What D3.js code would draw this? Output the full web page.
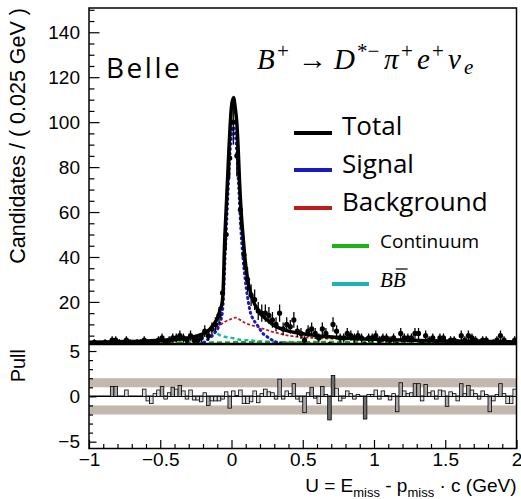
<!DOCTYPE html>
<html>
<head>
<meta charset="utf-8">
<script src="https://cdn.jsdelivr.net/npm/d3@7"></script>
<style>
  body { margin: 0; background: #fff; }
  text { font-family: "Liberation Sans", Arial, sans-serif; fill: #000; }
</style>
</head>
<body>
<div id="viz_container"></div>
<script>
// ---- data ----
const binLow = -1;
const binWidth = 0.025;

// candidates per 0.025 GeV bin, 120 bins from -1 to 2
const counts = [
  1, 2, 1, 1, 2, 1, 3, 3, 2, 1, 3, 2, 1, 2, 2, 3, 1, 1, 2, 3,
  4, 2, 3, 4, 4, 5, 4, 3, 5, 3, 3, 4, 7, 5, 8, 10, 14, 24, 50, 84,
  100, 85, 61, 41, 30, 23, 21, 16, 15, 15, 14, 12, 10, 15, 8, 10, 9, 12, 7, 6,
  3, 7, 8, 6, 4, 8, 6, 1, 10, 7, 4, 4, 6, 5, 4, 5, 4, 1, 4, 4,
  5, 3, 4, 4, 3, 4, 1, 6, 4, 4, 4, 6, 6, 2, 5, 3, 4, 2, 4, 4,
  1, 3, 3, 2, 5, 3, 5, 4, 3, 2, 3, 3, 1, 2, 3, 5, 3, 1, 1, 3
];

// pull per bin
const pulls = [
  0, 0, 0, 0, 0, 0, 1.1, 1.1, 0, 0, 0.7, 0, 0, 0, 0, 0.8, -0.5, -0.8, 0.3, 0.7,
  1.1, -0.3, 0.4, 1.0, 0.8, 1.2, 0.6, -0.3, 0.7, -0.4, -0.4, -0.6, 0.4, -1.0, -0.5, -0.5, -0.5, -0.3, 0.5, -1.3,
  0.6, 0.1, 0.7, -0.8, -0.8, -0.6, 0.6, -0.7, 0.3, 0.8, 0.5, 0.4, -0.3, 1.9, -0.3, 0.6, 0.3, 1.4, -0.3, -0.6,
  -1.8, 0.4, 1.0, -0.2, -0.8, 1.1, 0.2, -2.6, 2.3, 0.9, -0.5, -0.2, 0.6, 0.3, -0.3, 0.2, 0, -2.5, 0.2, 0.2,
  0.7, -0.3, 0.6, 0.1, -0.4, 0.3, -1.7, 1.5, 0.6, 0.3, 0.4, 1.4, 1.4, -0.5, 1.3, 0.4, 0.6, -0.3, 0.7, 0.6,
  -1.1, 0.5, 0.3, -0.5, 1.4, 0.3, 1.2, 0.7, 0.3, -0.3, 0.6, 0.2, -1.7, -0.5, 0.2, 1.4, 0.3, -0.8, -0.8, 0.8
];

// fit components sampled along U
const totalX = [-1, -0.8, -0.6, -0.5, -0.4, -0.3, -0.25, -0.2, -0.15, -0.12, -0.1, -0.08, -0.065, -0.058, -0.049, -0.04, -0.028, -0.018, -0.009, 0, 0.014, 0.025, 0.038, 0.047, 0.056, 0.068, 0.08, 0.095, 0.113, 0.13, 0.155, 0.18, 0.2, 0.25, 0.3, 0.4, 0.5, 0.6, 0.8, 1.0, 1.25, 1.5, 2.0];
const totalY = [2.1, 2.3, 2.6, 2.9, 3.3, 4.0, 4.8, 5.8, 8.0, 10.5, 12.5, 16.5, 20, 26, 45, 58, 74, 88, 99, 107, 111, 107, 99, 88, 74, 60, 50, 39, 30, 25, 20, 17, 15, 12, 9.5, 7.0, 5.8, 4.9, 4.0, 3.4, 2.9, 2.6, 2.2];

const signalX = [-1, -0.4, -0.3, -0.2, -0.164, -0.12, -0.082, -0.065, -0.058, -0.049, -0.04, -0.028, -0.018, -0.009, 0, 0.012, 0.025, 0.038, 0.05, 0.066, 0.08, 0.096, 0.113, 0.13, 0.155, 0.178, 0.22, 0.25, 0.3, 0.4, 0.5, 0.7, 2];
const signalY = [0, 0.2, 0.6, 1.8, 3.5, 6, 10.5, 15, 20, 34, 47, 64, 78, 88, 95, 98, 95, 86, 72, 52, 40, 30, 22, 16, 12, 10, 6, 4.5, 2.5, 1, 0.5, 0.2, 0];

const bkgX = [-1, -0.5, -0.3, -0.2, -0.15, -0.1, -0.05, 0, 0.03, 0.06, 0.1, 0.15, 0.2, 0.3, 0.4, 0.5, 0.6, 0.8, 1, 1.5, 2];
const bkgY = [2.0, 2.4, 3.5, 5.2, 6.8, 8.8, 11, 12.5, 13, 12, 10.5, 9.5, 8.5, 6.5, 5.0, 4.3, 3.9, 3.4, 3.0, 2.5, 2.1];

const contX = [-1, -0.5, 0, 0.5, 1, 1.5, 2];
const contY = [1.7, 1.9, 2.0, 2.1, 2.2, 2.2, 2.1];

const bbX = [-1, -0.5, -0.35, -0.25, -0.2, -0.16, -0.14, -0.12, -0.09, -0.05, 0, 0.05, 0.1, 0.2, 0.3, 0.5, 1, 2];
const bbY = [0.3, 0.8, 1.5, 3, 5, 7, 7.5, 7, 5.5, 4.5, 4, 3.3, 3, 2.5, 2.2, 1.6, 1, 0.6];

// ticks
const xTicks = [-1, -0.5, 0, 0.5, 1, 1.5, 2];
const yTicks = [20, 40, 60, 80, 100, 120, 140];
const pullTicks = [-5, 0, 5];
const legendLabels = ["Total", "Signal", "Background", "Continuum"];

// ---- layout ----
const width = 521, height = 499;
const left = 89, right = 516.5;
const upTop = 8, upBot = 343.5, loTop = 344.5, loBot = 448.5;

const svg = d3.select("#viz_container")
  .append("svg")
    .attr("width", width)
    .attr("height", height);

const xScale = d3.scaleLinear().domain([-1, 2]).range([left, right]);
const yScale = d3.scaleLinear().domain([1.5, 150.8]).range([upBot, upTop]);
const pScale = d3.scaleLinear().domain([-5.75, 5.72]).range([loBot, loTop]);

svg.append("clipPath").attr("id", "clipUp")
  .append("rect")
    .attr("x", left).attr("y", upTop)
    .attr("width", right - left).attr("height", upBot - upTop);

// ---- pull panel ----
const pull = svg.append("g");

pull.selectAll(".band")
  .data([[1, 2], [-2, -1]])
  .join("rect")
    .attr("x", left)
    .attr("width", right - left)
    .attr("y", d => pScale(d[1]))
    .attr("height", d => pScale(d[0]) - pScale(d[1]))
    .style("fill", "#c3b8ae");

pull.append("line")
  .attr("x1", left).attr("x2", right)
  .attr("y1", pScale(0)).attr("y2", pScale(0))
  .style("stroke", "#000").style("stroke-width", 1.5);

pull.selectAll(".pullbar")
  .data(pulls)
  .join("rect")
    .attr("x", (d, i) => xScale(binLow + i * binWidth))
    .attr("width", xScale(binWidth) - xScale(0))
    .attr("y", d => pScale(Math.max(d, 0)))
    .attr("height", d => Math.abs(pScale(d) - pScale(0)))
    .style("fill", d => Math.abs(d) >= 2 ? "#6f6f6f" : Math.abs(d) >= 1 ? "#a9a9a9" : "#dedede")
    .style("stroke", "#000")
    .style("stroke-width", 0.8)
    .style("display", d => d === 0 ? "none" : null);

// ---- upper panel ----
const up = svg.append("g").attr("clip-path", "url(#clipUp)");

const curvePath = (xs, ys) => d3.line()
  .x((d, i) => xScale(xs[i]))
  .y(d => yScale(d))
  .curve(d3.curveMonotoneX)(ys);

up.append("path").attr("d", curvePath(bbX, bbY))
  .style("fill", "none").style("stroke", "#1ab4b4").style("stroke-width", 2.5).style("stroke-dasharray", "4,3");
up.append("path").attr("d", curvePath(contX, contY))
  .style("fill", "none").style("stroke", "#1ab41a").style("stroke-width", 2.5).style("stroke-dasharray", "5,3");
up.append("path").attr("d", curvePath(bkgX, bkgY))
  .style("fill", "none").style("stroke", "#c01a1a").style("stroke-width", 1.8).style("stroke-dasharray", "3,2");
up.append("path").attr("d", curvePath(signalX, signalY))
  .style("fill", "none").style("stroke", "#1a1ac0").style("stroke-width", 3).style("stroke-dasharray", "1,4")
  .style("stroke-linecap", "round");

// data points
const points = counts.map((c, i) => ({ u: binLow + (i + 0.5) * binWidth, n: c }))
  .filter(d => d.n > 0);

up.selectAll(".errv")
  .data(points)
  .join("line")
    .attr("x1", d => xScale(d.u)).attr("x2", d => xScale(d.u))
    .attr("y1", d => yScale(d.n - Math.sqrt(d.n)))
    .attr("y2", d => yScale(d.n + Math.sqrt(d.n)))
    .style("stroke", "#000").style("stroke-width", 1.3);

up.selectAll(".errh")
  .data(points)
  .join("line")
    .attr("x1", d => xScale(d.u - binWidth / 2)).attr("x2", d => xScale(d.u + binWidth / 2))
    .attr("y1", d => yScale(d.n)).attr("y2", d => yScale(d.n))
    .style("stroke", "#000").style("stroke-width", 1.3);

up.selectAll(".pt")
  .data(points)
  .join("circle")
    .attr("cx", d => xScale(d.u))
    .attr("cy", d => yScale(d.n))
    .attr("r", 2.6)
    .style("fill", "#000");

up.append("path").attr("d", curvePath(totalX, totalY))
  .style("fill", "none").style("stroke", "#000").style("stroke-width", 3.5);

// ---- axes ----
const minorY = d3.range(5, 151, 5).filter(v => v % 20 !== 0);
const minorX = d3.range(-10, 21).map(v => v / 10).filter(v => Math.abs(v * 2 - Math.round(v * 2)) > 1e-6);
const minorP = d3.range(-5, 6).filter(v => v % 5 !== 0);

const styleAxis = g => {
  g.select(".domain").remove();
  g.selectAll("line").style("stroke", "#000").style("stroke-width", 1.2);
  g.selectAll("text").style("font-size", "19px").style("font-family", "Liberation Sans, Arial, sans-serif");
};

svg.append("g").attr("transform", `translate(${left},0)`)
  .call(d3.axisLeft(yScale).tickValues(yTicks).tickSize(-10.5).tickPadding(9).tickFormat(d3.format("d")))
  .call(styleAxis);
svg.append("g").attr("transform", `translate(${left},0)`)
  .call(d3.axisLeft(yScale).tickValues(minorY).tickSize(-5.5).tickFormat(""))
  .call(styleAxis);

svg.append("g").attr("transform", `translate(${left},0)`)
  .call(d3.axisLeft(pScale).tickValues(pullTicks).tickSize(-7.5).tickPadding(9).tickFormat(d3.format("~g")))
  .call(styleAxis);
svg.append("g").attr("transform", `translate(${left},0)`)
  .call(d3.axisLeft(pScale).tickValues(minorP).tickSize(-4).tickFormat(""))
  .call(styleAxis);

svg.append("g").attr("transform", `translate(0,${loBot})`)
  .call(d3.axisBottom(xScale).tickValues(xTicks).tickSize(-8.5).tickPadding(4).tickFormat(d3.format("~g")))
  .call(styleAxis);
svg.append("g").attr("transform", `translate(0,${loBot})`)
  .call(d3.axisBottom(xScale).tickValues(minorX).tickSize(-4.5).tickFormat(""))
  .call(styleAxis);

// frames
[[upTop, upBot], [loTop, loBot]].forEach(p => {
  svg.append("rect")
    .attr("x", left).attr("y", p[0])
    .attr("width", right - left).attr("height", p[1] - p[0])
    .style("fill", "none").style("stroke", "#000").style("stroke-width", 1.5);
});

// ---- titles ----
svg.append("text")
  .attr("transform", "translate(25,8) rotate(-90)")
  .attr("text-anchor", "end")
  .style("font-size", "21.5px")
  .text("Candidates / ( 0.025 GeV )");

svg.append("text")
  .attr("transform", "translate(25,349) rotate(-90)")
  .attr("text-anchor", "end")
  .style("font-size", "20px")
  .text("Pull");

const xt = svg.append("text")
  .attr("x", right).attr("y", 492)
  .attr("text-anchor", "end")
  .style("font-size", "19px");
xt.append("tspan").text("U = E");
xt.append("tspan").attr("dy", 5).style("font-size", "13px").text("miss");
xt.append("tspan").attr("dy", -5).text(" - p");
xt.append("tspan").attr("dy", 5).style("font-size", "13px").text("miss");
xt.append("tspan").attr("dy", -5).text(" \u00b7 c (GeV)");

svg.append("text")
  .attr("x", 106).attr("y", 78)
  .style("font-size", "28px")
  .style("letter-spacing", "2.5px")
  .style("font-family", "Open Sans, sans-serif")
  .text("Belle");

// decay formula, glyph groups placed along the line
const f = svg.append("text")
  .attr("y", 69)
  .style("font-family", "Liberation Serif, serif")
  .style("font-size", "29px");
const sup = 11;
f.append("tspan").attr("x", 257).style("font-style", "italic").text("B");
f.append("tspan").attr("x", 277).attr("dy", -sup).style("font-size", "21px").text("+");
f.append("tspan").attr("x", 298).attr("dy", sup).text("\u2192");
f.append("tspan").attr("x", 334).style("font-style", "italic").text("D");
f.append("tspan").attr("x", 357).attr("dy", -sup).style("font-size", "21px").text("*\u2212");
f.append("tspan").attr("x", 384).attr("dy", sup).style("font-style", "italic").text("\u03c0");
f.append("tspan").attr("x", 401).attr("dy", -sup).style("font-size", "21px").text("+");
f.append("tspan").attr("x", 417).attr("dy", sup).style("font-style", "italic").text("e");
f.append("tspan").attr("x", 432).attr("dy", -sup).style("font-size", "21px").text("+");
f.append("tspan").attr("x", 448).attr("dy", sup).style("font-style", "italic").text("\u03bd");
f.append("tspan").attr("x", 464).attr("dy", 5).style("font-size", "21px").style("font-style", "italic").text("e");

// ---- legend ----
const legendColors = ["#000000", "#1a1ac0", "#c01a1a", "#1ab41a", "#1ab4b4"];
const legendRows = [
  { x1: 294, x2: 332, y: 133, tx: 342, ty: 135, fs: 26 },
  { x1: 294, x2: 332, y: 170, tx: 342, ty: 173, fs: 26 },
  { x1: 294, x2: 332, y: 208, tx: 342, ty: 211, fs: 26 },
  { x1: 332, x2: 369, y: 246, tx: 380, ty: 248, fs: 19 },
  { x1: 332, x2: 369, y: 284, tx: 380, ty: 287, fs: 20 }
];
legendRows.forEach((r, i) => {
  svg.append("line")
    .attr("x1", r.x1).attr("x2", r.x2).attr("y1", r.y).attr("y2", r.y)
    .style("stroke", legendColors[i]).style("stroke-width", 4);
  if (i < legendLabels.length) {
    svg.append("text")
      .attr("x", r.tx).attr("y", r.ty)
      .style("font-size", r.fs + "px")
      .style("font-family", "Open Sans, sans-serif")
      .text(legendLabels[i]);
  }
});
const bb = svg.append("text")
  .attr("x", 380).attr("y", 287)
  .style("font-family", "Liberation Serif, serif")
  .style("font-style", "italic")
  .style("font-size", "21px")
  .text("BB");
const bbNode = bb.node();
const ox0 = bbNode.getStartPositionOfChar(1).x, ox1 = bbNode.getEndPositionOfChar(1).x;
svg.append("line")
  .attr("x1", ox0 + 3).attr("x2", ox1 + 2)
  .attr("y1", 269).attr("y2", 269)
  .style("stroke", "#000").style("stroke-width", 1.2);
</script>
</body>
</html>
